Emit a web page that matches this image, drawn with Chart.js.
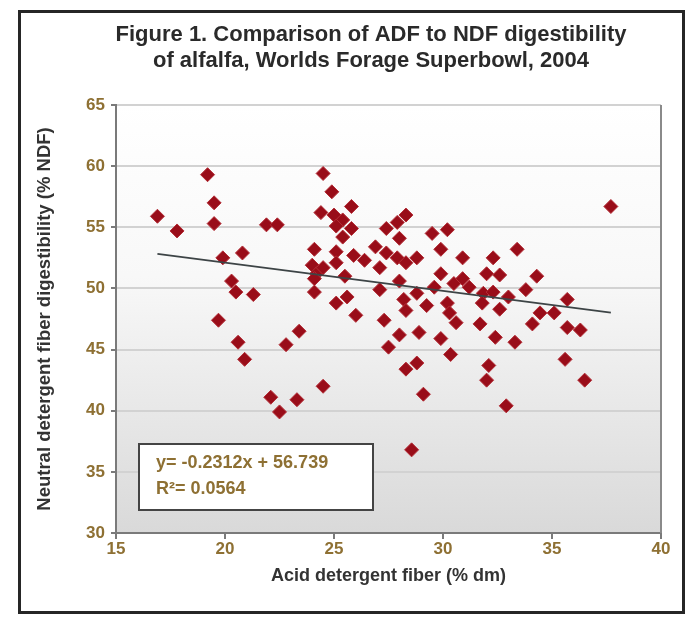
<!DOCTYPE html>
<html>
<head>
  <meta charset="utf-8">
  <title>ADF vs NDF digestibility</title>
  <style>
    body {
      margin: 0;
      background: #fff;
    }
    #wrap {
      width: 689px;
      height: 621px;
    }
  </style>
</head>
<body>
  <div id="wrap">
    <canvas id="scatterChart" width="689" height="621"></canvas>
  </div>

  <script src="https://cdn.jsdelivr.net/npm/chart.js"></script>

  <script>
    // ADF (% dm) and NDF digestibility (% NDF) per sample
    const adf = [
      16.9, 17.8, 19.2, 19.5, 19.5, 19.9, 20.8, 20.3, 20.5, 21.3,
      19.7, 20.6, 20.9, 21.9, 22.4, 22.8, 23.4, 24.5, 22.1, 23.3,
      22.5, 24.5, 24.9, 25.8, 24.4, 25.0, 25.4, 25.1, 25.8, 25.4,
      24.1, 25.1, 25.9, 26.4, 26.9, 24.0, 24.2, 24.5, 25.1, 25.5,
      24.1, 24.1, 25.1, 25.6, 26.0, 27.3, 27.5, 28.0, 27.1, 27.1,
      27.4, 27.9, 28.3, 28.0, 29.5, 30.2, 29.9, 27.4, 27.9, 28.3,
      28.8, 28.0, 28.8, 29.6, 29.9, 30.5, 30.9, 31.2, 28.2, 28.3,
      29.25, 30.2, 30.3, 30.6, 28.9, 29.9, 30.35, 28.3, 28.8, 29.1,
      28.56, 31.7, 32.4, 33.3, 32.1, 32.0, 32.9, 35.6, 36.5, 35.7,
      36.3, 37.7, 33.4, 30.9, 32.3, 32.0, 32.6, 34.3, 33.8, 31.85,
      32.3, 33.0, 35.7, 31.8, 32.6, 34.45, 34.1, 35.1
    ];
    const ndf = [
      55.9, 54.7, 59.3, 57.0, 55.3, 52.5, 52.9, 50.6, 49.7, 49.5,
      47.4, 45.6, 44.2, 55.2, 55.2, 45.4, 46.5, 42.0, 41.1, 40.9,
      39.9, 59.4, 57.9, 56.7, 56.2, 56.0, 55.6, 55.1, 54.9, 54.2,
      53.2, 53.0, 52.7, 52.3, 53.4, 51.9, 51.2, 51.7, 52.1, 51.0,
      50.8, 49.7, 48.8, 49.3, 47.8, 47.4, 45.2, 46.2, 51.7, 49.9,
      54.9, 55.4, 56.0, 54.1, 54.5, 54.8, 53.2, 52.9, 52.5, 52.1,
      52.5, 50.6, 49.6, 50.1, 51.2, 50.4, 50.8, 50.1, 49.1, 48.2,
      48.6, 48.8, 48.0, 47.2, 46.4, 45.9, 44.6, 43.4, 43.9, 41.35,
      36.8, 47.1, 46.0, 45.6, 43.7, 42.5, 40.4, 44.2, 42.5, 46.8,
      46.6, 56.7, 53.2, 52.5, 52.5, 51.2, 51.1, 51.0, 49.9, 49.6,
      49.7, 49.3, 49.1, 48.8, 48.3, 48.0, 47.1, 48.0
    ];

    // linear trend shown in the figure
    const slope = -0.2312;
    const intercept = 56.739;
    const rSquared = 0.0564;
    const trendRange = [16.9, 37.7];

    const xTicks = [15, 20, 25, 30, 35, 40];
    const yTicks = [30, 35, 40, 45, 50, 55, 60, 65];

    const titleLines = ['Figure 1. Comparison of ADF to NDF digestibility',
                        'of alfalfa, Worlds Forage Superbowl, 2004'];

    const tickColor = '#8e7033';
    const font = "'Liberation Sans', Arial, sans-serif";

    const points = adf.map((x, i) => ({ x: x, y: ndf[i] }));
    const trend = trendRange.map(x => ({ x: x, y: slope * x + intercept }));

    // frame, title, plot background gradient, right border and equation box
    const decor = {
      id: 'decor',
      beforeDraw(chart) {
        const { ctx, chartArea: a } = chart;
        ctx.save();
        ctx.fillStyle = '#fff';
        ctx.fillRect(0, 0, chart.width, chart.height);
        const g = ctx.createLinearGradient(0, a.top, 0, a.bottom);
        g.addColorStop(0, '#ffffff');
        g.addColorStop(0.4, '#f8f8f8');
        g.addColorStop(1, '#d9d9d9');
        ctx.fillStyle = g;
        ctx.fillRect(a.left, a.top, a.right - a.left, a.bottom - a.top);
        ctx.restore();
      },
      afterDraw(chart) {
        const { ctx, chartArea: a } = chart;
        ctx.save();
        // plot right edge
        ctx.strokeStyle = '#8a8a8a';
        ctx.lineWidth = 2;
        ctx.beginPath();
        ctx.moveTo(a.right, a.top);
        ctx.lineTo(a.right, a.bottom);
        ctx.stroke();

        // outer frame
        ctx.strokeStyle = '#262626';
        ctx.lineWidth = 3;
        ctx.strokeRect(19.5, 11.5, 664, 601);

        // title
        ctx.fillStyle = '#2a2a2a';
        ctx.font = 'bold 22px ' + font;
        ctx.textAlign = 'center';
        ctx.textBaseline = 'middle';
        ctx.fillText(titleLines[0], 371, 35);
        ctx.fillText(titleLines[1], 371, 61);

        // equation box
        const bx = a.left + 23, by = a.bottom - 89, bw = 234, bh = 66;
        ctx.fillStyle = '#fff';
        ctx.fillRect(bx, by, bw, bh);
        ctx.strokeStyle = '#444';
        ctx.lineWidth = 2;
        ctx.strokeRect(bx, by, bw, bh);
        ctx.fillStyle = tickColor;
        ctx.font = 'bold 18px ' + font;
        ctx.textAlign = 'left';
        ctx.fillText('y= ' + slope + 'x + ' + intercept, bx + 17, by + 19);
        ctx.fillText('R\u00b2= ' + rSquared, bx + 17, by + 45);
        ctx.restore();
      }
    };

    const ctx = document.getElementById('scatterChart').getContext('2d');

    new Chart(ctx, {
      type: 'scatter',
      data: {
        datasets: [
          {
            label: 'Samples',
            data: points,
            pointStyle: 'rectRot',
            pointRadius: 7,
            backgroundColor: '#990d19',
            borderColor: '#b32d36',
            borderWidth: 1,
            order: 2
          },
          {
            type: 'line',
            label: 'Linear trend',
            data: trend,
            borderColor: '#3d4446',
            borderWidth: 1.8,
            pointRadius: 0,
            fill: false,
            order: 1
          }
        ]
      },
      options: {
        responsive: false,
        animation: false,
        layout: {
          padding: { left: 22, right: 28, top: 105, bottom: 30 }
        },
        plugins: {
          legend: { display: false },
          tooltip: { enabled: false },
          title: { display: false }
        },
        scales: {
          x: {
            type: 'linear',
            min: 15,
            max: 40,
            afterBuildTicks(scale) {
              scale.ticks = xTicks.map(v => ({ value: v }));
            },
            afterFit(scale) {
              scale.height = 58;
            },
            ticks: {
              color: tickColor,
              font: { family: font, size: 17, weight: 'bold' },
              padding: 0
            },
            grid: {
              drawOnChartArea: false,
              drawTicks: true,
              tickLength: 6,
              color: '#7a7a7a',
              lineWidth: 2
            },
            border: { color: '#7a7a7a', width: 2 },
            title: {
              display: true,
              text: 'Acid detergent fiber (% dm)',
              color: '#333',
              font: { family: font, size: 18, weight: 'bold' },
              padding: { top: 6 }
            }
          },
          y: {
            type: 'linear',
            min: 30,
            max: 65,
            afterBuildTicks(scale) {
              scale.ticks = yTicks.map(v => ({ value: v }));
            },
            afterFit(scale) {
              scale.width = 94;
            },
            ticks: {
              color: tickColor,
              font: { family: font, size: 17, weight: 'bold' },
              padding: 6
            },
            grid: {
              color: '#d2d2d2',
              lineWidth: 2,
              drawTicks: true,
              tickLength: 5,
              tickColor: '#7a7a7a'
            },
            border: { color: '#7a7a7a', width: 2 },
            title: {
              display: true,
              text: 'Neutral detergent fiber digestibility (% NDF)',
              color: '#333',
              font: { family: font, size: 18.5, weight: 'bold' },
              padding: { top: 12, bottom: 6 }
            }
          }
        }
      },
      plugins: [decor]
    });
  </script>
</body>
</html>
